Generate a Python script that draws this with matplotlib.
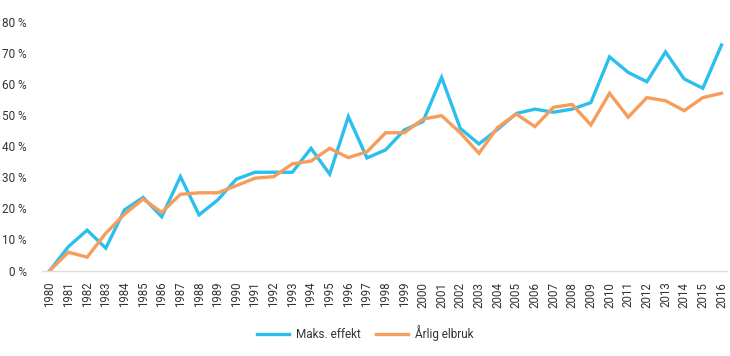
import matplotlib
matplotlib.use("Agg")
import matplotlib.pyplot as plt

years = list(range(1980, 2017))

# Maks. effekt (%)
maks_effekt = [0, 7.7, 13.0, 7.2, 19.5, 23.5, 17.3, 30.2, 17.9, 22.7,
               29.4, 31.6, 31.6, 31.6, 39.3, 31.0, 49.5, 36.2, 38.8, 45.2,
               47.9, 62.1, 45.7, 40.7, 45.4, 50.5, 51.9, 50.9, 51.9, 54.0,
               68.7, 63.7, 60.7, 70.3, 61.6, 58.6, 72.5]

# Årlig elbruk (%)
arlig_elbruk = [0, 5.9, 4.3, 12.0, 18.1, 23.0, 18.7, 24.5, 25.0, 25.0,
                27.3, 29.7, 30.2, 34.3, 35.2, 39.3, 36.3, 38.2, 44.3, 44.3,
                48.7, 49.8, 44.3, 37.7, 46.0, 50.3, 46.3, 52.5, 53.4, 46.8,
                57.0, 49.3, 55.6, 54.6, 51.4, 55.6, 57.0]

y_ticks = [0, 10, 20, 30, 40, 50, 60, 70, 80]

plt.rcParams['font.family'] = ['Roboto', 'DejaVu Sans']
text_color = '#333333'

fig = plt.figure(figsize=(7.3, 3.56), dpi=100)
ax = fig.add_axes([0.058, 0.240, 0.938, 0.699])

ax.plot(years, maks_effekt, color='#2BBFEE', lw=2.4, label='Maks. effekt',
        solid_joinstyle='miter')
ax.plot(years, arlig_elbruk, color='#F79D5C', lw=2.4, label='Årlig elbruk',
        solid_joinstyle='miter')

ax.set_xlim(1979.6, 2016.3)
ax.set_ylim(0, 80)
ax.set_yticks(y_ticks)
ax.set_yticklabels([f"{v} %" for v in y_ticks])
ax.set_xticks(years)
ax.set_xticklabels([str(y) for y in years], rotation=90)

for side in ['top', 'right', 'left']:
    ax.spines[side].set_visible(False)
ax.spines['bottom'].set_color('#dddddd')
ax.spines['bottom'].set_linewidth(1)

ax.tick_params(axis='both', length=0, colors=text_color)
ax.tick_params(axis='y', labelsize=8.5, pad=11)
ax.tick_params(axis='x', labelsize=8.3, pad=8)

handles, labels = ax.get_legend_handles_labels()
leg = fig.legend(handles, labels, loc='center', bbox_to_anchor=(0.5, 0.065),
                 ncol=2, frameon=False, fontsize=8.5, handlelength=2.7,
                 columnspacing=1.3, handletextpad=0.6)
for t in leg.get_texts():
    t.set_color(text_color)

fig.savefig("out.png", dpi=100)
